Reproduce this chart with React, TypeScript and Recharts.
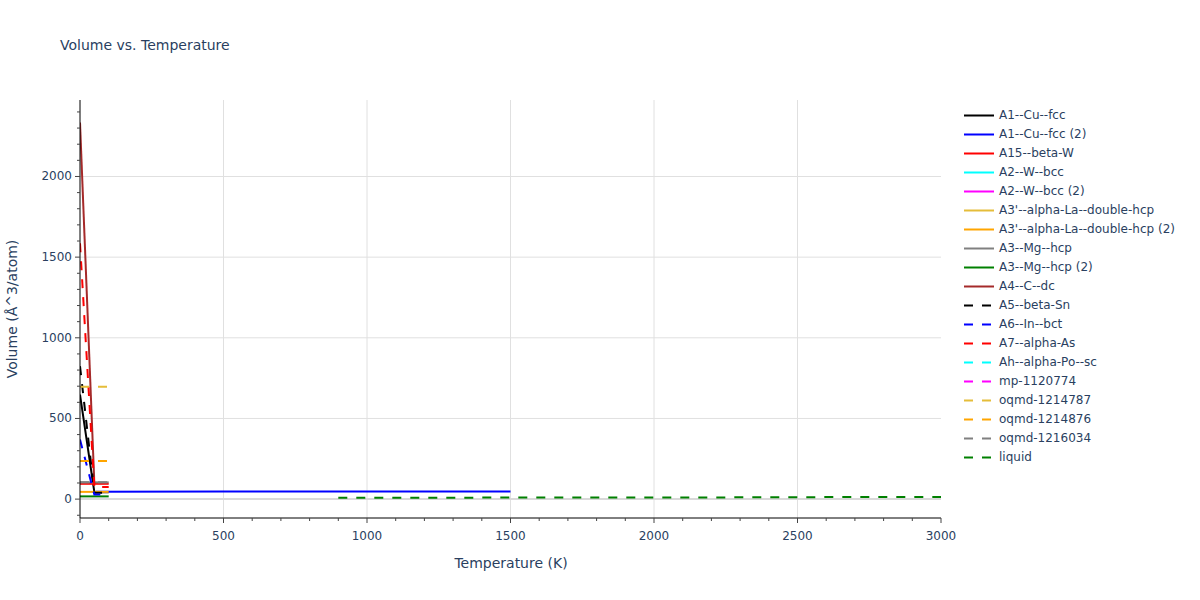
import React from "react";
import { Line, LineChart, ReferenceLine, XAxis, YAxis } from "recharts";

const seriesNames = [
  "A1--Cu--fcc",
  "A1--Cu--fcc (2)",
  "A15--beta-W",
  "A2--W--bcc",
  "A2--W--bcc (2)",
  "A3'--alpha-La--double-hcp",
  "A3'--alpha-La--double-hcp (2)",
  "A3--Mg--hcp",
  "A3--Mg--hcp (2)",
  "A4--C--dc",
  "A5--beta-Sn",
  "A6--In--bct",
  "A7--alpha-As",
  "Ah--alpha-Po--sc",
  "mp-1120774",
  "oqmd-1214787",
  "oqmd-1214876",
  "oqmd-1216034",
  "liquid"
];

// temperatures (K)
const lowTemps = [0, 50, 100];
const steepTemps = [0, 50];
const cuFcc2Temps = [55, 500, 1000, 1500];
const liquidTemps = [900, 1200, 1500, 1800, 2100, 2400, 2700, 3000];

// volumes (Å^3/atom)
const a1CuFcc = [648, 43, 43];
const a1CuFcc2 = [46, 46.5, 47.3, 48];
const a15BetaW = [95, 95, 95];
const a2WBcc: number[] = [];
const a2WBcc2: number[] = [];
const a3LaDhcp: number[] = [];
const a3LaDhcp2 = [45, 45, 45];
const a3MgHcp = [104, 104, 104];
const a3MgHcp2 = [17, 17, 17];
const a4CDc = [2335, 95];
const a5BetaSn = [824, 40, 40];
const a6InBct = [370, 28, 28];
const a7AlphaAs = [1586, 75, 75];
const ahAlphaPoSc: number[] = [];
const mp1120774: number[] = [];
const oqmd1214787 = [697, 697, 697];
const oqmd1214876 = [237, 237, 237];
const oqmd1216034 = [104, 104, 104];
const liquid = [9, 9, 9.5, 10, 10, 11.5, 13, 13.5];

const xTicks = [
  0, 100, 200, 300, 400, 500, 600, 700, 800, 900, 1000, 1100, 1200, 1300, 1400, 1500,
  1600, 1700, 1800, 1900, 2000, 2100, 2200, 2300, 2400, 2500, 2600, 2700, 2800, 2900, 3000
];
const yTicks = [
  -100, 0, 100, 200, 300, 400, 500, 600, 700, 800, 900, 1000, 1100, 1200, 1300, 1400, 1500,
  1600, 1700, 1800, 1900, 2000, 2100, 2200, 2300, 2400
];
const xGrid = [500, 1000, 1500, 2000, 2500];
const yGrid = [500, 1000, 1500, 2000];

const FONT = '"DejaVu Sans", Verdana, sans-serif';
const TEXT = "#2a3f5f";

const series = [
  { color: "black", dash: false, temps: lowTemps, vols: a1CuFcc },
  { color: "blue", dash: false, temps: cuFcc2Temps, vols: a1CuFcc2 },
  { color: "red", dash: false, temps: lowTemps, vols: a15BetaW },
  { color: "cyan", dash: false, temps: lowTemps, vols: a2WBcc },
  { color: "magenta", dash: false, temps: lowTemps, vols: a2WBcc2 },
  { color: "#e5bd3a", dash: false, temps: lowTemps, vols: a3LaDhcp },
  { color: "orange", dash: false, temps: lowTemps, vols: a3LaDhcp2 },
  { color: "grey", dash: false, temps: lowTemps, vols: a3MgHcp },
  { color: "green", dash: false, temps: lowTemps, vols: a3MgHcp2 },
  { color: "brown", dash: false, temps: steepTemps, vols: a4CDc },
  { color: "black", dash: true, temps: lowTemps, vols: a5BetaSn },
  { color: "blue", dash: true, temps: lowTemps, vols: a6InBct },
  { color: "red", dash: true, temps: lowTemps, vols: a7AlphaAs },
  { color: "cyan", dash: true, temps: lowTemps, vols: ahAlphaPoSc },
  { color: "magenta", dash: true, temps: lowTemps, vols: mp1120774 },
  { color: "#e5bd3a", dash: true, temps: lowTemps, vols: oqmd1214787 },
  { color: "orange", dash: true, temps: lowTemps, vols: oqmd1214876 },
  { color: "grey", dash: true, temps: lowTemps, vols: oqmd1216034 },
  { color: "green", dash: true, temps: liquidTemps, vols: liquid }
].map((s, i) => ({
  ...s,
  name: seriesNames[i],
  data: s.vols.map((v, j) => ({ t: s.temps[j], v }))
}));

function XTick(props: any) {
  const { x, y, payload } = props;
  const major = payload.value % 500 === 0;
  return (
    <g>
      <line x1={x} x2={x} y1={y} y2={y + (major ? 5 : 3)} stroke="#444" />
      {major ? (
        <text x={x} y={y + 22} textAnchor="middle" fill={TEXT} fontSize={12} fontFamily={FONT}>
          {payload.value}
        </text>
      ) : null}
    </g>
  );
}

function YTick(props: any) {
  const { x, y, payload } = props;
  const major = payload.value % 500 === 0;
  return (
    <g>
      <line x1={x - (major ? 5 : 3)} x2={x} y1={y} y2={y} stroke="#444" />
      {major ? (
        <text x={x - 8} y={y + 4} textAnchor="end" fill={TEXT} fontSize={12} fontFamily={FONT}>
          {payload.value}
        </text>
      ) : null}
    </g>
  );
}

export default function App() {
  return (
    <div
      style={{
        position: "absolute",
        left: 0,
        top: 0,
        width: 1200,
        height: 600,
        background: "#fff",
        fontFamily: FONT,
        color: TEXT
      }}
    >
      <div style={{ position: "absolute", left: 60, top: 38, fontSize: 14, lineHeight: "14px" }}>
        Volume vs. Temperature
      </div>

      <LineChart width={1200} height={600} margin={{ top: 100, right: 259, bottom: 52, left: 30 }}>
        {xGrid.map((g) => (
          <ReferenceLine key={`x${g}`} x={g} stroke="#e0e0e0" strokeWidth={1} zIndex={-50} />
        ))}
        {yGrid.map((g) => (
          <ReferenceLine key={`y${g}`} y={g} stroke="#e0e0e0" strokeWidth={1} zIndex={-50} />
        ))}
        <ReferenceLine y={0} stroke="#d9d9d9" strokeWidth={2} zIndex={-40} />
        <XAxis
          type="number"
          dataKey="t"
          domain={[0, 3000]}
          ticks={xTicks}
          interval={0}
          allowDataOverflow
          height={30}
          tickSize={0}
          tickMargin={0}
          tickLine={false}
          axisLine={{ stroke: "#000" }}
          tick={<XTick />}
        />
        <YAxis
          type="number"
          domain={[-117, 2474]}
          ticks={yTicks}
          interval={0}
          allowDataOverflow
          width={50}
          tickSize={0}
          tickMargin={0}
          tickLine={false}
          axisLine={{ stroke: "#000" }}
          tick={<YTick />}
        />
        {series.map((s) => (
          <Line
            key={s.name}
            name={s.name}
            data={s.data}
            dataKey="v"
            type="linear"
            stroke={s.color}
            strokeWidth={2}
            strokeDasharray={s.dash ? "9 9" : undefined}
            dot={false}
            activeDot={false}
            isAnimationActive={false}
          />
        ))}
      </LineChart>

      <div
        style={{
          position: "absolute",
          left: 411,
          top: 556,
          width: 200,
          textAlign: "center",
          fontSize: 14,
          lineHeight: "14px"
        }}
      >
        Temperature (K)
      </div>
      <div
        style={{
          position: "absolute",
          left: -88,
          top: 302,
          width: 200,
          height: 14,
          textAlign: "center",
          fontSize: 14,
          lineHeight: "14px",
          transform: "rotate(-90deg)"
        }}
      >
        Volume (Å^3/atom)
      </div>

      <div style={{ position: "absolute", left: 964, top: 105.5 }}>
        {series.map((s) => (
          <div key={s.name} style={{ display: "flex", alignItems: "center", height: 19 }}>
            <svg width={35} height={19}>
              <line
                x1={0}
                x2={30}
                y1={9.5}
                y2={9.5}
                stroke={s.color}
                strokeWidth={2}
                strokeDasharray={s.dash ? "9 9" : undefined}
              />
            </svg>
            <span style={{ fontSize: 12, whiteSpace: "nowrap" }}>{s.name}</span>
          </div>
        ))}
      </div>
    </div>
  );
}
